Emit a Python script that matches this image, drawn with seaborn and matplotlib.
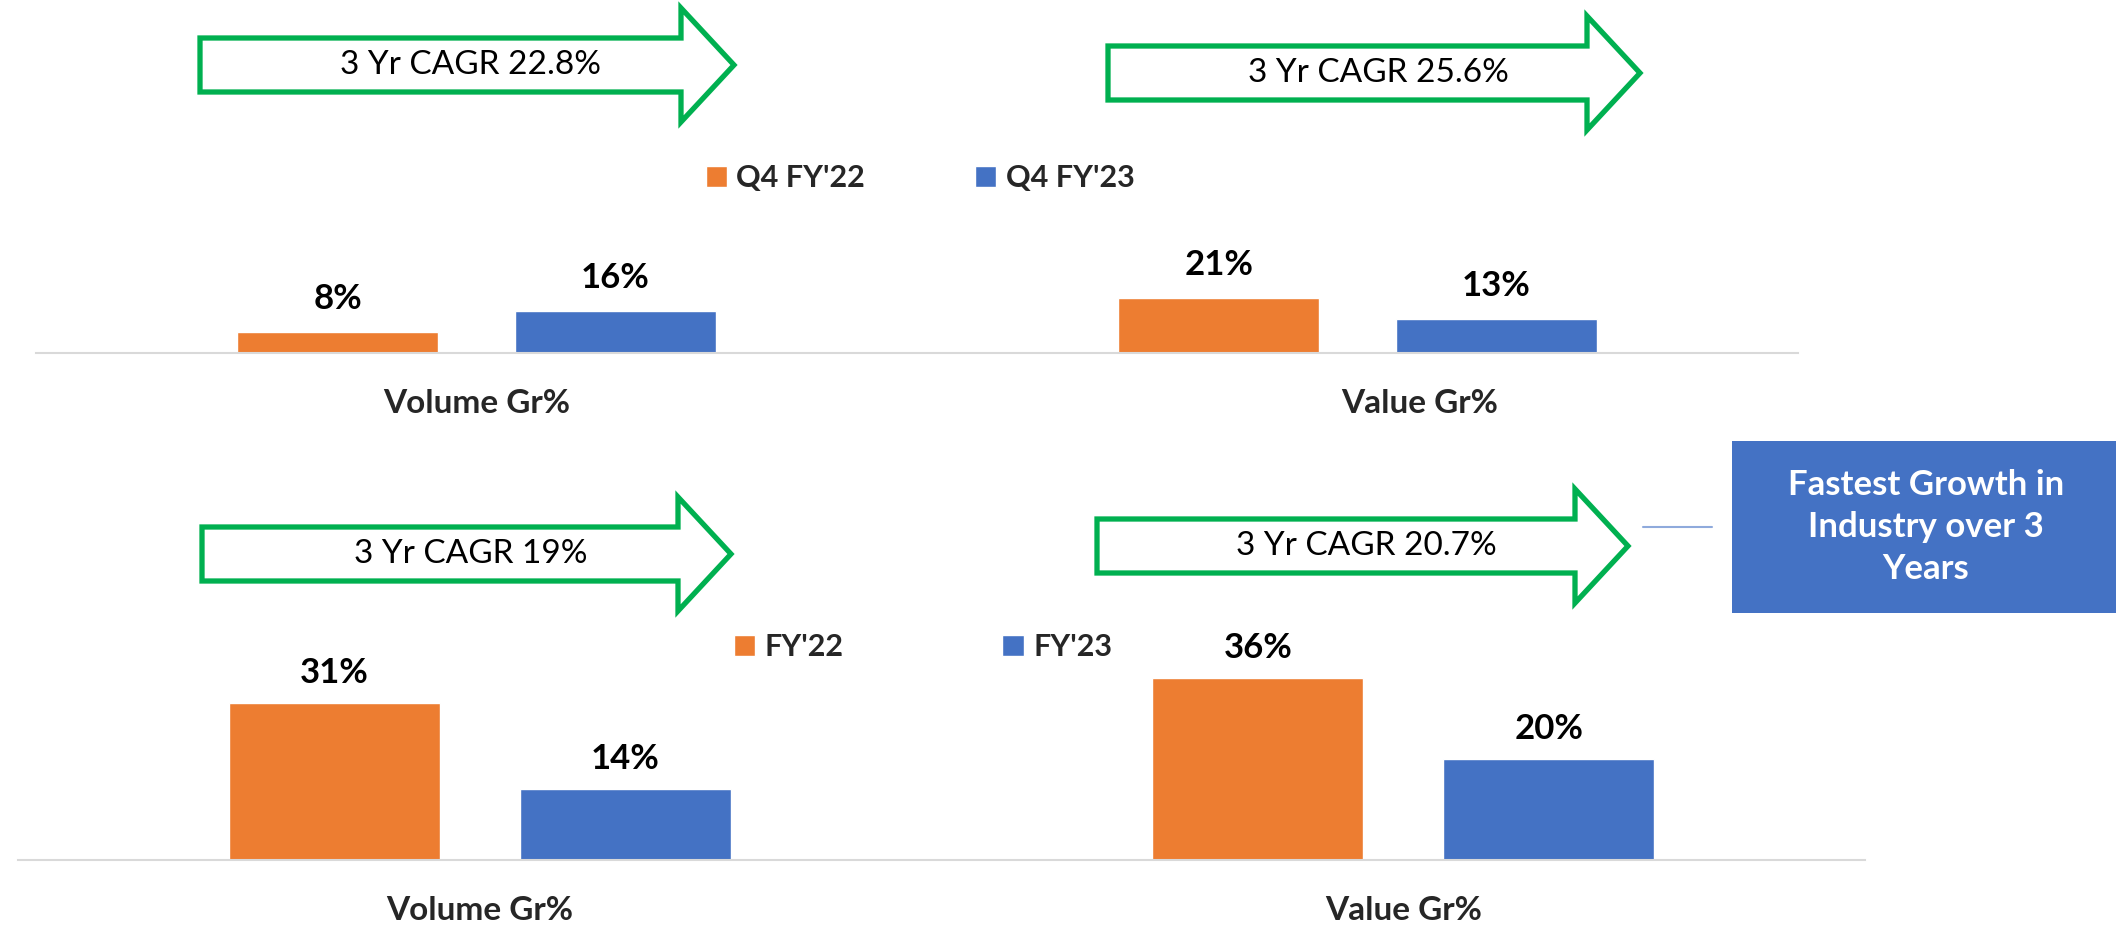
#!/usr/bin/env python3
"""Quarterly and full-year growth, volume vs value, with 3 yr CAGR callouts."""

import matplotlib.pyplot as plt
import matplotlib.transforms as mtransforms
import pandas as pd
import seaborn as sns
from matplotlib.patches import Patch, Polygon, Rectangle
from matplotlib.lines import Line2D

W, H = 2116, 925

ORANGE = "#ED7D31"
BLUE = "#4472C4"
GREEN = "#00B050"
AXIS_GREY = "#D9D9D9"

categories = ["Volume Gr%", "Value Gr%"]

q4_periods = ["Q4 FY'22", "Q4 FY'23"]
q4_fy22 = [8, 21]
q4_fy23 = [16, 13]

fy_periods = ["FY'22", "FY'23"]
fy22 = [31, 36]
fy23 = [14, 20]

cagr_top = ["3 Yr CAGR 22.8%", "3 Yr CAGR 25.6%"]
cagr_bottom = ["3 Yr CAGR 19%", "3 Yr CAGR 20.7%"]
callout = "Fastest Growth in\nIndustry over 3\nYears"

sns.set_style("white")
plt.rcParams["font.family"] = ["Lato", "DejaVu Sans"]


def fx(x):
    return x / W


def fy(y):
    return 1 - y / H


def make_frame(periods, first, second):
    rows = []
    for cat, a, b in zip(categories, first, second):
        rows.append({"category": cat, "period": periods[0], "growth": a})
        rows.append({"category": cat, "period": periods[1], "growth": b})
    return pd.DataFrame(rows)


def draw_panel(fig, rect, df, periods, ymax, label_off, legend_xy, colspace):
    ax = fig.add_axes(rect)
    sns.barplot(data=df, x="category", y="growth", hue="period",
                hue_order=periods, palette=[ORANGE, BLUE], saturation=1,
                width=0.63, gap=0.276, errorbar=None, legend=False, ax=ax)
    ax.set_ylim(0, ymax)
    ax.set_xlabel("")
    ax.set_ylabel("")
    ax.set_yticks([])
    for side in ["top", "left", "right"]:
        ax.spines[side].set_visible(False)
    ax.spines["bottom"].set_color(AXIS_GREY)
    ax.spines["bottom"].set_linewidth(1.5)
    ax.tick_params(axis="x", length=0, pad=26)
    for lbl in ax.get_xticklabels():
        lbl.set_fontsize(24)
        lbl.set_fontweight("bold")

    for cont in ax.containers:
        for bar in cont:
            h = bar.get_height()
            ax.annotate(f"{h:g}%", (bar.get_x() + bar.get_width() / 2, h),
                        xytext=(0, label_off), textcoords="offset points",
                        ha="center", va="baseline", fontsize=25,
                        fontweight="bold", color="black")

    handles = [Patch(facecolor=ORANGE, label=periods[0]),
               Patch(facecolor=BLUE, label=periods[1])]
    fig.legend(handles=handles, loc="center", ncol=2, frameon=False,
               bbox_to_anchor=(fx(legend_xy[0]), fy(legend_xy[1])),
               prop={"size": 22, "weight": "bold"}, handlelength=0.7,
               handleheight=0.7, handletextpad=0.3, columnspacing=colspace,
               borderpad=0, borderaxespad=0)
    return ax


def draw_arrow(fig, left, tip, mid, text):
    body, head, head_len = 27, 57, 53
    base = tip - head_len
    pts = [(left, mid - body), (base, mid - body), (base, mid - head),
           (tip, mid), (base, mid + head), (base, mid + body),
           (left, mid + body)]
    poly = Polygon([(fx(x), fy(y)) for x, y in pts], closed=True,
                   facecolor="white", edgecolor=GREEN, linewidth=3.8,
                   joinstyle="miter", transform=fig.transFigure)
    fig.add_artist(poly)
    fig.text(fx((left + tip) / 2 + 4), fy(mid), text, ha="center",
             va="center", fontsize=24, color="black")


fig = plt.figure(figsize=(W / 100, H / 100), dpi=100)

top_df = make_frame(q4_periods, q4_fy22, q4_fy23)
bot_df = make_frame(fy_periods, fy22, fy23)

ax_top = draw_panel(fig, [fx(36), fy(353), 1762 / W, 203 / H], top_df,
                    q4_periods, 203 / 2.6, 17, (920, 178), 3.6)
ax_bot = draw_panel(fig, [fx(18), fy(860), 1847 / W, 240 / H], bot_df,
                    fy_periods, 240 / 5.05, 14.5, (923, 647), 5.2)

# the top "Value Gr%" label sits a little right of its bars in the source
shift = mtransforms.ScaledTranslation(62 / 100, 0, fig.dpi_scale_trans)
lbl = ax_top.get_xticklabels()[1]
lbl.set_transform(lbl.get_transform() + shift)

draw_arrow(fig, 200, 734, 65, cagr_top[0])
draw_arrow(fig, 1108, 1640, 73, cagr_top[1])
draw_arrow(fig, 202, 731, 554, cagr_bottom[0])
draw_arrow(fig, 1097, 1628, 546, cagr_bottom[1])

fig.add_artist(Line2D([fx(1643), fx(1712)], [fy(527), fy(527)],
                      color="#8FAADC", linewidth=1.5,
                      transform=fig.transFigure))
fig.add_artist(Rectangle((fx(1732), fy(613)), (W - 1732) / W, 172 / H,
                         facecolor=BLUE, edgecolor="none",
                         transform=fig.transFigure))
fig.text(fx(1926), fy(527), callout, ha="center", va="center",
         fontsize=25, fontweight="bold", color="white", linespacing=1.4)

fig.savefig("out.png", dpi=100)
plt.close(fig)
